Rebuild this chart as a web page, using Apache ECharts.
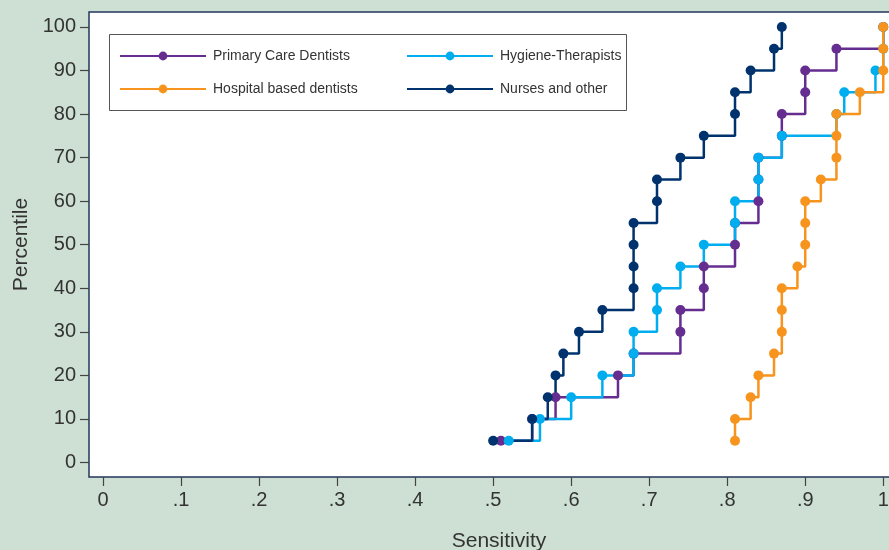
<!DOCTYPE html>
<html>
<head>
<meta charset="utf-8">
<script src="https://cdn.jsdelivr.net/npm/echarts@6/dist/echarts.min.js"></script>
<style>
  html, body { margin: 0; padding: 0; background: #cde0d3; }
  #chart { width: 889px; height: 550px; }
</style>
</head>
<body>
<div id="chart"></div>
<script>
// percentile levels (y) shared by all groups
var percentiles = [5, 10, 15, 20, 25, 30, 35, 40, 45, 50, 55, 60, 65, 70, 75, 80, 85, 90, 95, 100];

// sensitivity at each percentile
var primaryCare = [0.51, 0.55, 0.58, 0.66, 0.68, 0.74, 0.74, 0.77, 0.77, 0.81, 0.81, 0.84, 0.84, 0.84, 0.87, 0.87, 0.90, 0.90, 0.94, 1.00];
var hygiene     = [0.52, 0.56, 0.60, 0.64, 0.68, 0.68, 0.71, 0.71, 0.74, 0.77, 0.81, 0.81, 0.84, 0.84, 0.87, 0.94, 0.95, 0.99, 1.00, 1.00];
var hospital    = [0.81, 0.81, 0.83, 0.84, 0.86, 0.87, 0.87, 0.87, 0.89, 0.90, 0.90, 0.90, 0.92, 0.94, 0.94, 0.94, 0.97, 1.00, 1.00, 1.00];
var nurses      = [0.50, 0.55, 0.57, 0.58, 0.59, 0.61, 0.64, 0.68, 0.68, 0.68, 0.68, 0.71, 0.71, 0.74, 0.77, 0.81, 0.81, 0.83, 0.86, 0.87];

var xTicks = [0, 0.1, 0.2, 0.3, 0.4, 0.5, 0.6, 0.7, 0.8, 0.9, 1];
var xTickLabels = ['0', '.1', '.2', '.3', '.4', '.5', '.6', '.7', '.8', '.9', '1'];
var yTicks = [0, 10, 20, 30, 40, 50, 60, 70, 80, 90, 100];

var groups = ['Primary Care Dentists', 'Hygiene-Therapists', 'Hospital based dentists', 'Nurses and other'];
var colors = ['#662d91', '#00aeef', '#f7941d', '#00336e'];
var values = [primaryCare, hygiene, hospital, nurses];

var font = "'Liberation Sans', Arial, sans-serif";

function pairs(xs) {
  return xs.map(function (x, i) { return [x, percentiles[i]]; });
}

function legendAt(name, left, top) {
  return {
    data: [name],
    left: left,
    top: top,
    padding: 0,
    itemWidth: 86,
    itemHeight: 11,
    selectedMode: false,
    textStyle: { fontFamily: font, fontSize: 14, color: '#333', lineHeight: 16, padding: [0, 0, 0, 2] }
  };
}

var chart = echarts.init(document.getElementById('chart'));

chart.setOption({
  backgroundColor: '#cde0d3',
  animation: false,
  grid: {
    show: true,
    left: 89,
    top: 12,
    width: 820,
    height: 465,
    outerBoundsMode: 'none',
    containLabel: false,
    backgroundColor: '#ffffff',
    borderColor: '#22365c',
    borderWidth: 1.5
  },
  xAxis: {
    type: 'value',
    min: -0.018,
    max: 1.033,
    name: 'Sensitivity',
    nameLocation: 'middle',
    nameGap: 54,
    nameTextStyle: { fontFamily: font, fontSize: 21, color: '#333' },
    axisLine: { show: false, onZero: false },
    splitLine: { show: false },
    axisTick: { show: true, customValues: xTicks, length: 9, lineStyle: { color: '#444', width: 1.2 } },
    axisLabel: {
      customValues: xTicks,
      margin: 13,
      fontFamily: font,
      fontSize: 20,
      color: '#333',
      formatter: function (v) {
        for (var i = 0; i < xTicks.length; i++) {
          if (Math.abs(xTicks[i] - v) < 1e-6) return xTickLabels[i];
        }
        return '';
      }
    }
  },
  yAxis: {
    type: 'value',
    min: -3.33,
    max: 103.44,
    name: 'Percentile',
    nameLocation: 'middle',
    nameGap: 54,
    nameTextStyle: { fontFamily: font, fontSize: 21, color: '#333' },
    axisLine: { show: false, onZero: false },
    splitLine: { show: false },
    axisTick: { show: true, customValues: yTicks, length: 9, lineStyle: { color: '#444', width: 1.2 } },
    axisLabel: { customValues: yTicks, margin: 13, fontFamily: font, fontSize: 20, color: '#333' }
  },
  legend: [
    legendAt(groups[0], 119, 48),
    legendAt(groups[1], 406, 48),
    legendAt(groups[2], 119, 81),
    legendAt(groups[3], 406, 81)
  ],
  graphic: [{
    type: 'rect',
    shape: { x: 109.5, y: 34.5, width: 517, height: 76 },
    style: { fill: 'none', stroke: '#555', lineWidth: 1 },
    z: 1
  }],
  series: groups.map(function (g, i) {
    return {
      name: g,
      type: 'line',
      step: 'end',
      data: pairs(values[i]),
      symbol: 'circle',
      symbolSize: 10,
      color: colors[i],
      lineStyle: { width: 2.5, color: colors[i] },
      itemStyle: { color: colors[i] },
      clip: false
    };
  })
});
</script>
</body>
</html>
